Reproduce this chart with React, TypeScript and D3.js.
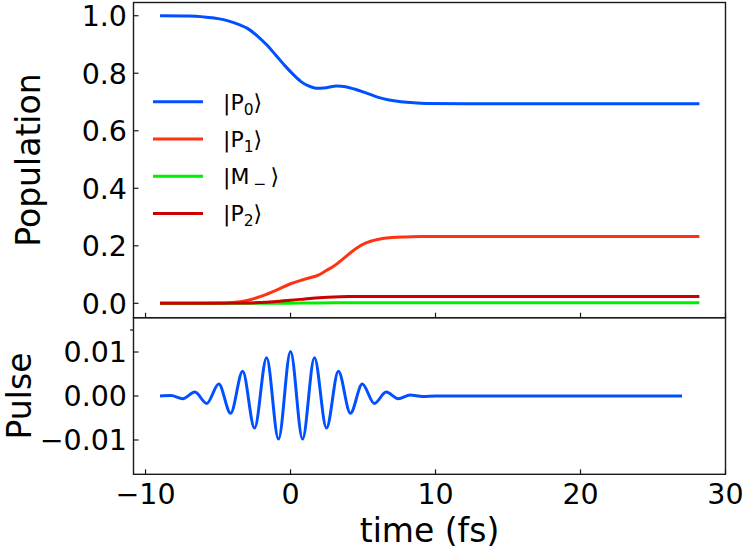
import { useEffect, useRef } from 'react'
import * as d3 from 'd3'

// population curves
const popT = [-9, -7, -6, -5, -4.3, -3.5, -3, -2.3, -1.65, -1, -0.33, 0.2, 0.72, 1.2, 1.78, 2.3, 3.2, 3.8, 4.4, 5.2, 6, 6.8, 7.6, 8.5, 9.4, 12, 28.2]
const p0 = [1.0, 0.999, 0.996, 0.99, 0.982, 0.968, 0.957, 0.93, 0.899, 0.862, 0.823, 0.795, 0.771, 0.757, 0.748, 0.749, 0.756, 0.753, 0.745, 0.732, 0.717, 0.707, 0.701, 0.697, 0.695, 0.694, 0.694]

const p1T = [-9, -5, -4, -3, -2, -1, 0, 1, 2, 2.5, 3, 3.75, 4.5, 5.2, 6, 7, 8, 9, 28.2]
const p1 = [0, 0.001, 0.003, 0.01, 0.025, 0.045, 0.068, 0.084, 0.1, 0.115, 0.13, 0.16, 0.19, 0.21, 0.222, 0.229, 0.231, 0.232, 0.232]

const smallT = [-9, -3, -2, -1, 0, 1, 2, 3, 4, 5, 6, 8, 28.2]
const mMinus = [0, 0, 0, 0.0002, 0.0005, 0.001, 0.0015, 0.0018, 0.002, 0.0021, 0.0022, 0.0022, 0.0022]
const p2 = [0, 0.001, 0.003, 0.006, 0.011, 0.015, 0.019, 0.022, 0.0235, 0.024, 0.0238, 0.0235, 0.0235]

// pulse extrema
const pulseT = [-9, -8.25, -7.43, -6.6, -5.78, -4.95, -4.13, -3.3, -2.48, -1.65, -0.83, 0, 0.83, 1.65, 2.48, 3.3, 4.13, 4.95, 5.78, 6.6, 7.43, 8.25, 9.1, 10, 27]
const pulse = [0, 0.0001, -0.0006, 0.0009, -0.0017, 0.0027, -0.0039, 0.0056, -0.0073, 0.0087, -0.0098, 0.0101, -0.0098, 0.0087, -0.0073, 0.0056, -0.0039, 0.0027, -0.0017, 0.0009, -0.0006, 0.0002, -0.0001, 0, 0]

const xTicks = [-10, 0, 10, 20, 30]
const popTicks = [0, 0.2, 0.4, 0.6, 0.8, 1.0]
const pulseTicks = [-0.01, 0, 0.01]

const series = [
  { label: 'P', sub: '0', t: popT, v: p0, color: '#0050ff' },
  { label: 'P', sub: '1', t: p1T, v: p1, color: '#ff3312' },
  { label: 'M', sub: '−', t: smallT, v: mMinus, color: '#00ee00' },
  { label: 'P', sub: '2', t: smallT, v: p2, color: '#cc0000' },
]

const fmt = (d: number, digits: number) => d.toFixed(digits).replace('-', '−')

const App = () => {
  const ref = useRef<SVGSVGElement>(null)

  useEffect(() => {
    if (!ref.current) return
    const svg = d3.select(ref.current)
    svg.selectAll('*').remove()

    const left = 133.5
    const right = 725.5
    const top = 2.5
    const mid = 317.7
    const bottom = 474.3
    const font = "'DejaVu Sans', sans-serif"
    const tickSize = '28.5px'
    const labelSize = '33px'

    const x = d3.scaleLinear().domain([-10.83, 30]).range([left, right])
    const yPop = d3.scaleLinear().domain([-0.05, 1.046]).range([mid, top])
    const yPulse = d3.scaleLinear().domain([-0.0178, 0.0178]).range([bottom, mid])

    // population lines
    series.forEach((s) => {
      const line = d3
        .line<number>()
        .x((_, i) => x(s.t[i]))
        .y((d) => yPop(d))
        .curve(d3.curveMonotoneX)
      svg
        .append('path')
        .attr('d', line(s.v))
        .attr('fill', 'none')
        .attr('stroke', s.color)
        .attr('stroke-width', 3)
    })

    // pulse
    const pulseLine = d3
      .line<number>()
      .x((_, i) => x(pulseT[i]))
      .y((d) => yPulse(d))
      .curve(d3.curveMonotoneX)
    svg
      .append('path')
      .attr('d', pulseLine(pulse))
      .attr('fill', 'none')
      .attr('stroke', '#0050ff')
      .attr('stroke-width', 3)

    // frames
    ;[[top, mid], [mid, bottom]].forEach(([y0, y1]) => {
      svg
        .append('rect')
        .attr('x', left)
        .attr('y', y0)
        .attr('width', right - left)
        .attr('height', y1 - y0)
        .attr('fill', 'none')
        .attr('stroke', '#1a1a1a')
        .attr('stroke-width', 1.4)
    })

    // x ticks (inward) on both panels
    ;[mid, bottom].forEach((yb) => {
      svg
        .append('g')
        .selectAll('line')
        .data(xTicks)
        .enter()
        .append('line')
        .attr('x1', (d) => x(d))
        .attr('x2', (d) => x(d))
        .attr('y1', yb)
        .attr('y2', yb - 5)
        .attr('stroke', '#1a1a1a')
        .attr('stroke-width', 1.2)
    })

    svg
      .append('g')
      .selectAll('text')
      .data(xTicks)
      .enter()
      .append('text')
      .attr('x', (d) => x(d))
      .attr('y', 503.5)
      .attr('text-anchor', 'middle')
      .style('font-family', font)
      .style('font-size', tickSize)
      .text((d) => fmt(d, 0))

    // y ticks
    const yAxis = (scale: d3.ScaleLinear<number, number>, ticks: number[], digits: number) => {
      svg
        .append('g')
        .selectAll('line')
        .data(ticks)
        .enter()
        .append('line')
        .attr('x1', left)
        .attr('x2', left + 5)
        .attr('y1', (d) => scale(d))
        .attr('y2', (d) => scale(d))
        .attr('stroke', '#1a1a1a')
        .attr('stroke-width', 1.2)
      svg
        .append('g')
        .selectAll('text')
        .data(ticks)
        .enter()
        .append('text')
        .attr('x', left - 6.5)
        .attr('y', (d) => scale(d))
        .attr('dy', '0.36em')
        .attr('text-anchor', 'end')
        .style('font-family', font)
        .style('font-size', tickSize)
        .text((d) => fmt(d, digits))
    }
    yAxis(yPop, popTicks, 1)
    yAxis(yPulse, pulseTicks, 2)

    // stray outward tick at top of pulse panel
    svg
      .append('line')
      .attr('x1', left - 3.5)
      .attr('x2', left)
      .attr('y1', yPulse(0.015))
      .attr('y2', yPulse(0.015))
      .attr('stroke', '#1a1a1a')
      .attr('stroke-width', 1.2)

    // axis labels
    svg
      .append('text')
      .attr('transform', `translate(40,${(top + mid) / 2}) rotate(-90)`)
      .attr('text-anchor', 'middle')
      .style('font-family', font)
      .style('font-size', labelSize)
      .text('Population')

    svg
      .append('text')
      .attr('transform', `translate(31,${yPulse(0)}) rotate(-90)`)
      .attr('text-anchor', 'middle')
      .style('font-family', font)
      .style('font-size', labelSize)
      .text('Pulse')

    svg
      .append('text')
      .attr('x', (left + right) / 2)
      .attr('y', 542)
      .attr('text-anchor', 'middle')
      .style('font-family', font)
      .style('font-size', labelSize)
      .text('time (fs)')

    // legend
    const legY = [101.7, 139, 176.2, 213.4]
    series.forEach((s, i) => {
      const ly = legY[i]
      svg
        .append('line')
        .attr('x1', 153)
        .attr('x2', 203)
        .attr('y1', ly)
        .attr('y2', ly)
        .attr('stroke', s.color)
        .attr('stroke-width', 3)
      const t = svg
        .append('text')
        .attr('x', 223)
        .attr('y', ly + 8)
        .style('font-family', font)
        .style('font-size', '22px')
      t.append('tspan').text('|' + s.label)
      t.append('tspan')
        .attr('dy', 5)
        .attr('dx', s.sub === '−' ? 4 : 0)
        .style('font-size', '15.5px')
        .text(s.sub)
      t.append('tspan')
        .attr('dy', -5)
        .attr('dx', s.sub === '−' ? 4 : 0)
        .text('⟩')
    })
  }, [])

  return (
    <svg
      ref={ref}
      width={745}
      height={550}
      style={{ position: 'absolute', left: 0, top: 0, background: '#fff' }}
    />
  )
}

export default App
